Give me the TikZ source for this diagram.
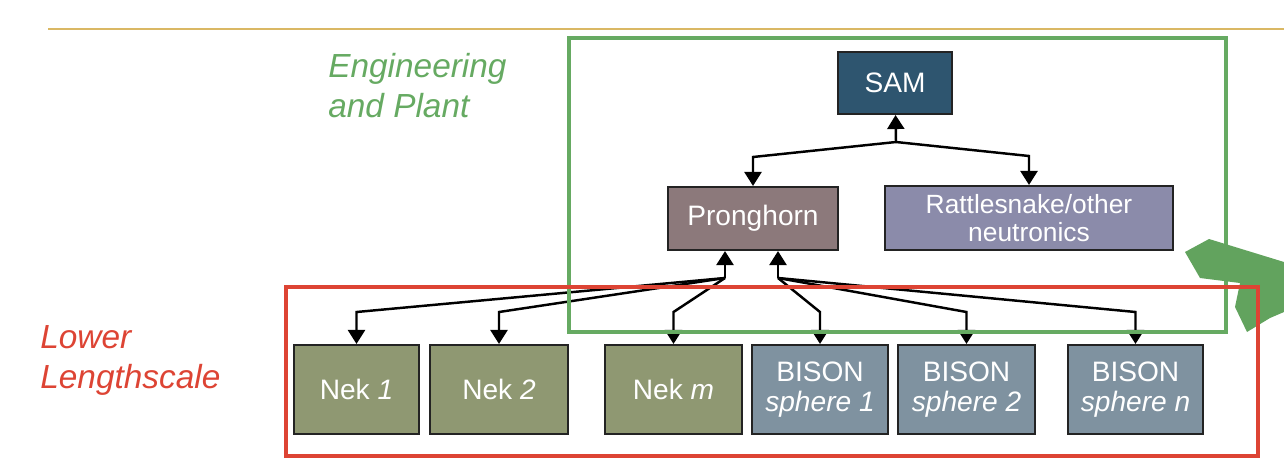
\documentclass[tikz,border=0pt]{standalone}
\usepackage{fontspec}
\setmainfont{Liberation Sans}
\usetikzlibrary{arrows.meta}

\definecolor{samblue}{RGB}{46,85,111}
\definecolor{prongbrown}{RGB}{140,121,123}
\definecolor{rattlepurple}{RGB}{139,139,170}
\definecolor{nekgreen}{RGB}{143,152,114}
\definecolor{bisonblue}{RGB}{127,146,160}
\definecolor{framegreen}{RGB}{102,170,98}
\definecolor{framered}{RGB}{221,68,52}
\definecolor{ruletan}{RGB}{218,184,100}
\definecolor{boxline}{RGB}{35,35,35}

\tikzset{
  code/.style={draw=boxline, line width=1.2pt, text=white, inner sep=0pt, align=center, font=\fontsize{16}{17}\selectfont},
  flow/.style={line width=1.4pt, -{Triangle[length=0.28cm, width=0.34cm]}},
  frame/.style={line width=2pt},
  scalelabel/.style={anchor=north west, inner sep=0pt, align=left, font=\fontsize{19}{22.8}\selectfont\itshape},
}

\begin{document}
\begin{tikzpicture}[x=0.02cm, y=-0.02cm]
\useasboundingbox (0,0) rectangle (1284,474);

\draw[ruletan, line width=0.7pt] (48,29) -- (1284,29);

\node[scalelabel, text=framegreen] (engLabel) at (328,53) {Engineering\\and Plant};
\node[scalelabel, text=framered] (lowLabel) at (40,325) {Lower\\Lengthscale};

% system codes
\node[code, fill=samblue, minimum width=2.28cm, minimum height=1.24cm] (SAM) at (895,83) {SAM};
\node[code, fill=prongbrown, minimum width=3.4cm, minimum height=1.26cm] (Pronghorn) at (753,218.5) {Pronghorn};
\node[code, fill=rattlepurple, minimum width=5.76cm, minimum height=1.28cm, font=\fontsize{15}{16}\selectfont] (Rattlesnake) at (1029,218) {Rattlesnake/other\\neutronics};

% lower lengthscale codes
\node[code, fill=nekgreen, minimum width=2.5cm, minimum height=1.78cm] (nekA) at (356.5,389.5) {Nek \textit{1}};
\node[code, fill=nekgreen, minimum width=2.76cm, minimum height=1.78cm] (nekB) at (499,389.5) {Nek \textit{2}};
\node[code, fill=nekgreen, minimum width=2.74cm, minimum height=1.78cm] (nekM) at (673.5,389.5) {Nek \textit{m}};
\node[code, fill=bisonblue, minimum width=2.72cm, minimum height=1.78cm] (bisonA) at (820,389.5) {BISON\\\textit{sphere 1}};
\node[code, fill=bisonblue, minimum width=2.74cm, minimum height=1.78cm] (bisonB) at (966.5,389.5) {BISON\\\textit{sphere 2}};
\node[code, fill=bisonblue, minimum width=2.7cm, minimum height=1.78cm] (bisonN) at (1135.5,389.5) {BISON\\\textit{sphere n}};

\coordinate (jTop) at (896,142);
\coordinate (jLeft) at (725,278);
\coordinate (jRight) at (778,278);

\draw[flow] (jTop) -- (SAM);
\draw[flow] (jTop) -- (Pronghorn.north |- 0,157) -- (Pronghorn.north);
\draw[flow] (jTop) -- (Rattlesnake.north |- 0,156) -- (Rattlesnake.north);

\draw[flow] (jLeft) -- (jLeft |- Pronghorn.south);
\draw[flow] (jRight) -- (jRight |- Pronghorn.south);

\foreach \code in {nekA, nekB, nekM}
  \draw[flow] (jLeft) -- (\code.north |- 0,312) -- (\code.north);
\foreach \code in {bisonA, bisonB, bisonN}
  \draw[flow] (jRight) -- (\code.north |- 0,312) -- (\code.north);

% frames
\draw[frame, framegreen] (569,38) rectangle (1226,332);
\fill[framegreen!96!black] (1185,252) -- (1209,239) -- (1284,262) -- (1284,312) -- (1270,318)
  -- (1247,332) -- (1235,307) -- (1240,283) -- (1200,278) -- cycle;
\draw[frame, framered] (286,287) rectangle (1258,456);

\end{tikzpicture}
\end{document}
